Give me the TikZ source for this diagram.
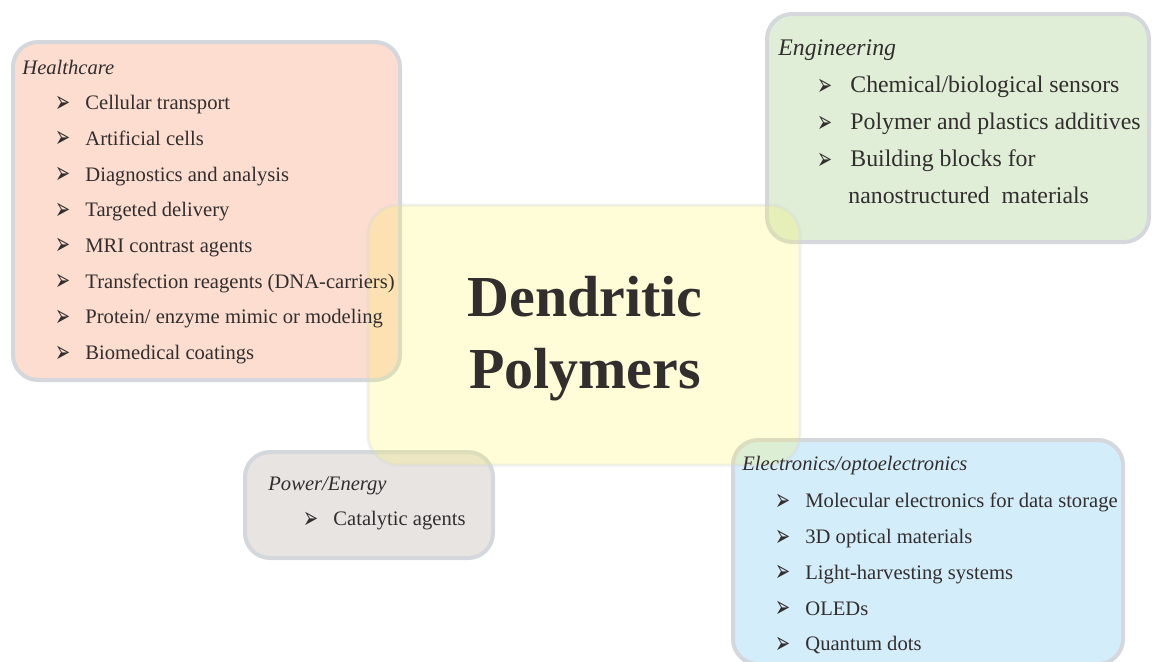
\documentclass[tikz,border=0pt]{standalone}
\usepackage{fontspec}
\setmainfont{Liberation Serif}
\newfontfamily\dejavu{DejaVu Sans}
\definecolor{healthfill}{RGB}{252, 221, 208}
\definecolor{engfill}{RGB}{224, 238, 215}
\definecolor{powerfill}{RGB}{232, 228, 225}
\definecolor{elecfill}{RGB}{212, 237, 250}
\definecolor{coreyellow}{RGB}{255, 245, 60}
\definecolor{boxedge}{RGB}{212, 215, 220}
\definecolor{textgray}{RGB}{50, 46, 46}
\newcommand{\bul}{\raisebox{-1.2pt}{\scalebox{1}[1.7]{\dejavu\fontsize{9}{9}\selectfont ➢}}}
\newcommand{\itm}[1][15pt]{\makebox[#1][l]{\bul}}

\begin{document}
\begin{tikzpicture}[
    x=0.5pt, y=-0.5pt,
    area/.style={
        rectangle, draw=boxedge, line width=2pt, rounded corners=12.5pt,
        inner sep=0pt, outer sep=0pt
    },
    core/.style={
        rectangle, draw=boxedge, draw opacity=0.35, fill=coreyellow,
        fill opacity=0.2, line width=1.5pt, rounded corners=15pt,
        inner sep=0pt, outer sep=0pt
    },
    title/.style={
        anchor=base west, inner sep=0pt, text=textgray,
        font=\fontsize{10.3}{12}\selectfont\itshape
    },
    items/.style={
        anchor=north west, inner sep=0pt, align=left, text=textgray,
        font=\fontsize{10.3}{17.85}\selectfont
    },
]
\useasboundingbox (0,0) rectangle (1152,661);

% Application areas
\node[area, fill=healthfill, minimum width=193.5pt, minimum height=169pt]
    (health) at (206.5,211) {};
\node[area, fill=engfill, minimum width=191pt, minimum height=114pt]
    (eng) at (958,128) {};
\node[area, fill=powerfill, minimum width=124pt, minimum height=53pt]
    (power) at (369,505) {};
\node[area, fill=elecfill, minimum width=195pt, minimum height=112pt]
    (elec) at (928,552) {};

% Central box (semi transparent, on top)
\node[core, minimum width=216pt, minimum height=130pt] (dend) at (584,335) {};
\node[anchor=north, inner sep=0pt, align=center, text=textgray,
      font=\fontsize{29}{36}\selectfont\bfseries] (dendtext) at (585,276)
    {Dendritic\\Polymers};

% Healthcare
\node[title] (healthtitle) at (22,74) {Healthcare};
\node[items] (healthlist) at (55,95)
    {\itm Cellular transport\\
     \itm Artificial cells\\
     \itm Diagnostics and analysis\\
     \itm Targeted delivery\\
     \itm MRI contrast agents\\
     \itm Transfection reagents (DNA-carriers)\\
     \itm Protein/ enzyme mimic or modeling\\
     \itm Biomedical coatings};

% Engineering
\node[title, font=\fontsize{11.9}{14}\selectfont\itshape] (engtitle) at (778,55)
    {Engineering};
\node[items, font=\fontsize{11.9}{18.5}\selectfont] (englist) at (817,76)
    {\itm[16.5pt]Chemical/biological sensors\\
     \itm[16.5pt]Polymer and plastics additives\\
     \itm[16.5pt]Building blocks for\\
     \hspace{15.5pt}nanostructured\ \ materials};

% Power/Energy
\node[title] (powertitle) at (268,490) {Power/Energy};
\node[items] (powerlist) at (303,511) {\itm Catalytic agents};

% Electronics/optoelectronics
\node[title] (electitle) at (742,470) {Electronics/optoelectronics};
\node[items] (eleclist) at (775,493)
    {\itm Molecular electronics for data storage\\
     \itm 3D optical materials\\
     \itm Light-harvesting systems\\
     \itm OLEDs\\
     \itm Quantum dots};

\end{tikzpicture}
\end{document}
